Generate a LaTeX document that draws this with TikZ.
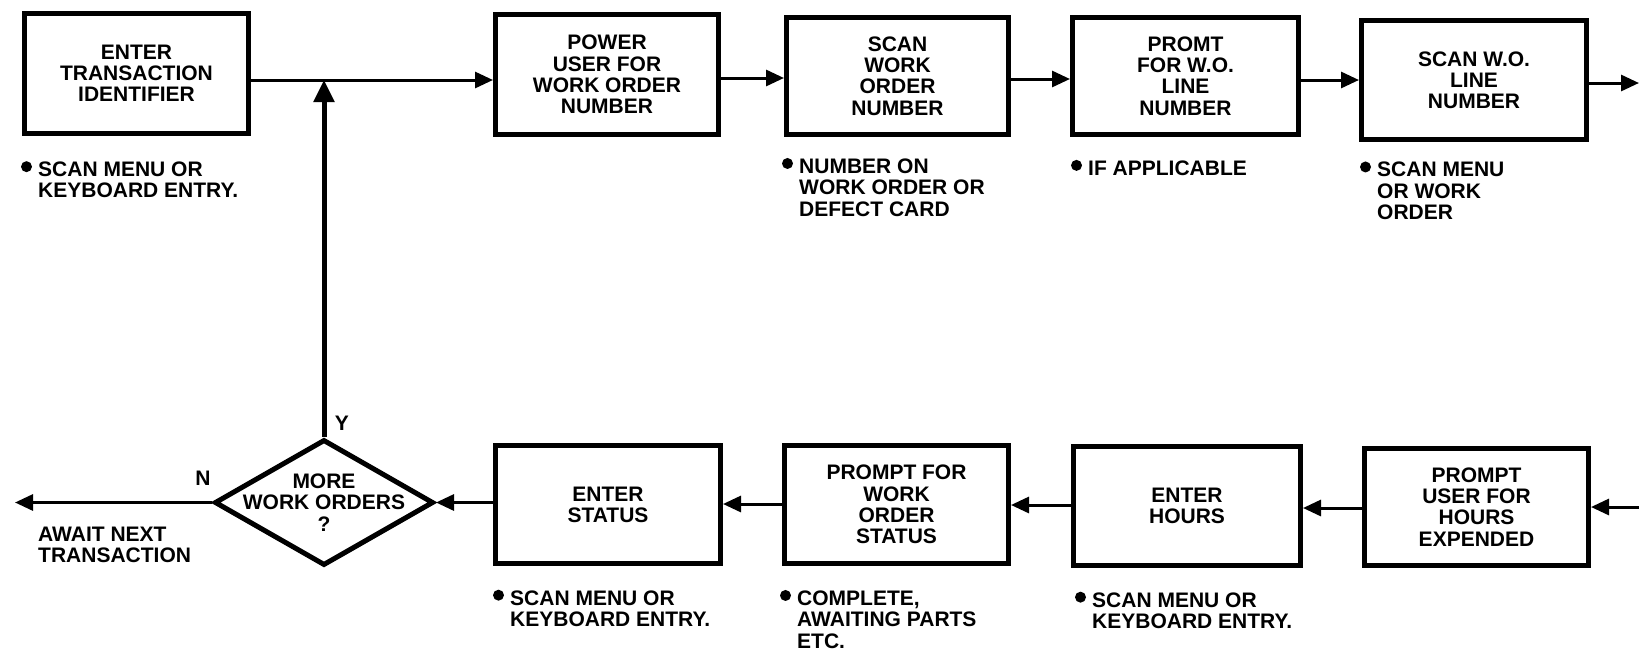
\documentclass[tikz,border=0pt]{standalone}
\usepackage{fontspec}
\setmainfont{Liberation Sans}
\usetikzlibrary{arrows.meta,shapes.geometric,calc}
\newcommand\lblfont{\fontsize{21}{21.2}\selectfont\bfseries}
\newcommand\notefont{\fontsize{21}{21.4}\selectfont\bfseries}
\begin{document}
\begin{tikzpicture}[x=1pt,y=-1pt,
  lbl/.style={font=\lblfont, inner sep=0pt, align=center},
  box/.style={draw, line width=5pt, inner sep=0pt, align=center, font=\lblfont},
  note/.style={font=\notefont, inner sep=0pt, align=left, anchor=west},
  conn/.style={line width=3pt, -{Triangle[length=18pt,width=16pt]}},
  upconn/.style={line width=5pt, -{Triangle[length=22pt,width=20pt]}},
  dec/.style={draw, shape=diamond, line width=5pt, inner sep=0pt, minimum width=219pt, minimum height=126pt}
]
\useasboundingbox (0,0) rectangle (1639,654);

% top row
\node[box, minimum width=224pt, minimum height=120pt] (b1) at (136.5,73.5) {ENTER\\TRANSACTION\\IDENTIFIER};
\node[box, minimum width=223pt, minimum height=120pt] (b2) at (607,74.5) {POWER\\USER FOR\\WORK ORDER\\NUMBER};
\node[box, minimum width=222pt, minimum height=117pt] (b3) at (897.5,76) {SCAN\\WORK\\ORDER\\NUMBER};
\node[box, minimum width=226pt, minimum height=117pt] (b4) at (1185.5,76) {PROMT\\FOR W.O.\\LINE\\NUMBER};
\node[box, minimum width=225pt, minimum height=119pt] (b5) at (1474,80) {SCAN W.O.\\LINE\\NUMBER};

% bottom row
\node[box, minimum width=225pt, minimum height=118pt] (b6) at (608,504.5) {ENTER\\STATUS};
\node[box, minimum width=224pt, minimum height=118pt] (b7) at (896.5,504.5) {PROMPT FOR\\WORK\\ORDER\\STATUS};
\node[box, minimum width=227pt, minimum height=119pt] (b8) at (1187,506) {ENTER\\HOURS};
\node[box, minimum width=224pt, minimum height=117pt] (b9) at (1476.5,507) {PROMPT\\USER FOR\\HOURS\\EXPENDED};

% decision
\node[dec] (d) at (324,502.5) {};
\node[lbl] (dt) at (324,502.5) {MORE\\WORK ORDERS\\?};
\node[lbl] (ly) at (342,423) {Y};
\node[lbl] (ln) at (203,478) {N};

% notes
\node[note] (n1) at (38,180) {SCAN MENU OR\\KEYBOARD ENTRY.};
\node[note] (n3) at (799,187.5) {NUMBER ON\\WORK ORDER OR\\DEFECT CARD};
\node[note] (n4) at (1088,168) {IF APPLICABLE};
\node[note] (n5) at (1377,191) {SCAN MENU\\OR WORK\\ORDER};
\node[note] (n6) at (510,608.5) {SCAN MENU OR\\KEYBOARD ENTRY.};
\node[note] (n7) at (797,619.5) {COMPLETE,\\AWAITING PARTS\\ETC.};
\node[note] (n8) at (1092,610.5) {SCAN MENU OR\\KEYBOARD ENTRY.};
\node[note] (aw) at (38,545) {AWAIT NEXT\\TRANSACTION};

% bullets
\foreach \n in {n1,n3,n4,n5,n6,n7,n8}
  \fill ($(\n.north west)+(-11.5,5)$) circle (5.5pt);

% connectors
\coordinate (J) at (324,80);
\coordinate (outT) at (1639,83);
\coordinate (inB) at (1639,507);
\coordinate (awE) at (15,502.5);

\draw[conn] (b1.east |- J) -- (b2.west |- J);
\draw[upconn] (d.north) -- (J);
\draw[conn] (b2.east |- 0,78) -- (b3.west |- 0,78);
\draw[conn] (b3.east |- 0,79) -- (b4.west |- 0,79);
\draw[conn] (b4.east |- 0,80) -- (b5.west |- 0,80);
\draw[conn] (b5.east |- outT) -- (outT);

\draw[conn] (inB) -- (b9.east |- inB);
\draw[conn] (b9.west |- 0,508) -- (b8.east |- 0,508);
\draw[conn] (b8.west |- 0,505) -- (b7.east |- 0,505);
\draw[conn] (b7.west |- 0,504) -- (b6.east |- 0,504);
\draw[conn] (b6.west |- d.east) -- (d.east);
\draw[conn] (d.west) -- (awE);
\end{tikzpicture}
\end{document}
